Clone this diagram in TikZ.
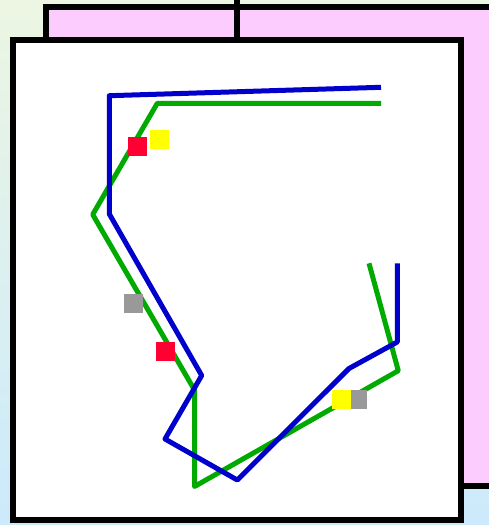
\documentclass[tikz,border=0pt]{standalone}
\usetikzlibrary{positioning}
\definecolor{bgtop}{RGB}{236,246,226}
\definecolor{bgbot}{RGB}{204,234,252}
\definecolor{backpink}{RGB}{252,204,255}
\definecolor{trkblue}{RGB}{0,0,204}
\definecolor{trkgreen}{RGB}{0,170,0}
\definecolor{mkred}{RGB}{255,0,51}
\definecolor{mkyellow}{RGB}{255,255,0}
\definecolor{mkgrey}{RGB}{153,153,153}
\tikzset{
  frame/.style={draw=black,line width=6pt},
  trk/.style={line width=5pt,line join=round},
  mk/.style={minimum size=18.5pt,inner sep=0pt,outer sep=0pt},
}
\begin{document}
\begin{tikzpicture}[x=1pt,y=-1pt]
\useasboundingbox (0,0) rectangle (489,525);
\shade[top color=bgtop,bottom color=bgbot] (0,0) rectangle (489,525);

% back panel
\draw[frame,fill=backpink] (45.5,7) rectangle (520,485.5);
\coordinate (split top) at (237,-5);
\coordinate (split bot) at (237,39.5);
\draw[frame] (split top) -- (split bot);

% front panel
\draw[frame,fill=white] (13.3,39.5) rectangle (461,519.5);

% track points
\coordinate (b1) at (381,87.3);
\coordinate (b2) at (109.3,95.7);
\coordinate (b3) at (109.3,214);
\coordinate (b4) at (201.7,375.5);
\coordinate (b5) at (165,439);
\coordinate (b6) at (237.3,480);
\coordinate (b7) at (349,368.5);
\coordinate (b8) at (397.3,342);
\coordinate (b9) at (397.3,263.3);

\coordinate (g1) at (381,103.3);
\coordinate (g2) at (157.3,103.3);
\coordinate (g3) at (92.7,214.5);
\coordinate (g4) at (194.5,390);
\coordinate (g5) at (194.5,486.5);
\coordinate (g6) at (398.3,370.7);
\coordinate (g7) at (369,263.3);

\draw[trk,trkgreen] (g1) -- (g2) -- (g3) -- (g4) -- (g5) -- (g6) -- (g7);
\draw[trk,trkblue] (b1) -- (b2) -- (b3) -- (b4) -- (b5) -- (b6) -- (b7) -- (b8) -- (b9);

% markers
\node[mk,fill=mkred] (red1) at (137.5,146.5) {};
\node[mk,fill=mkyellow] (yel1) at (159.5,139.5) {};
\node[mk,fill=mkgrey] (grey1) at (133.3,303.3) {};
\node[mk,fill=mkred] (red2) at (165.3,351.5) {};
\node[mk,fill=mkgrey] (grey2) at (357.5,399.3) {};
\node[mk,fill=mkyellow] (yel2) at (341.7,399.3) {};
\end{tikzpicture}
\end{document}
